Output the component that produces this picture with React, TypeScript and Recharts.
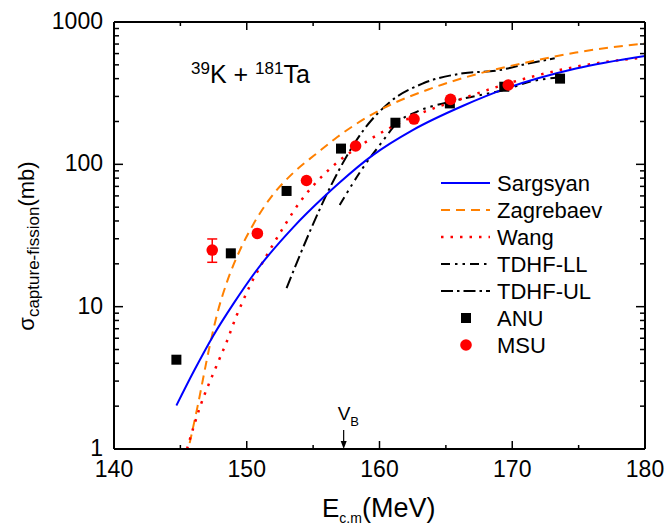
import {
  ComposedChart,
  Line,
  Scatter,
  XAxis,
  YAxis,
  ErrorBar,
  ReferenceDot,
  Legend,
} from 'recharts';

// theory curves (E c.m. in MeV, sigma in mb)
const sargsyanE = [144.7, 146.0, 147.5, 149.0, 150.7, 153.5, 155.8, 157.0, 159.5, 162.5, 166.3, 169.6, 174.8, 180];
const sargsyanSigma = [2.02, 3.5, 6.3, 10.5, 17.8, 36.1, 58.9, 74.5, 116, 174, 258, 343, 471, 577];

const zagrebaevE = [145.7, 146.3, 147.2, 147.8, 148.5, 149.5, 150.5, 151.75, 153.5, 155.3, 156.8, 160.0, 163.8, 167.6, 171.3, 174.8, 180];
const zagrebaevSigma = [1.1, 2.0, 5.25, 9.1, 14.8, 25.1, 38.0, 57.5, 87.1, 120, 155, 240, 339, 437, 525, 610, 708];

const wangE = [145.5, 146.5, 147.7, 148.5, 149.2, 149.7, 150.2, 151.5, 152.75, 154.0, 155.3, 156.4, 159.3, 162.5, 166.3, 170.1, 174.8, 180];
const wangSigma = [1.0, 2.0, 3.8, 5.7, 8.5, 10.9, 13.8, 22.9, 35.9, 54.3, 75.9, 95.5, 150, 216, 291, 380, 485, 565];

const tdhfLLE = [157.0, 158.8, 160.3, 161.3, 162.8, 165.3, 167.6, 169.6, 171.3, 173.5];
const tdhfLLSigma = [51.8, 96, 148, 194, 234, 275, 307, 337, 380, 408];

const tdhfULE = [153.0, 154.8, 156.3, 158.8, 160.8, 163.3, 166.3, 168.8, 171.3, 173.2];
const tdhfULSigma = [13.5, 34.5, 69.6, 174, 275, 371, 436, 455, 513, 556];

// experiment
const anuE = [144.7, 148.8, 153.0, 157.1, 161.2, 165.3, 169.4, 173.6];
const anuSigma = [4.24, 23.7, 65, 129, 196, 268, 351, 400];

const msuE = [147.4, 150.8, 154.5, 158.2, 162.6, 165.35, 169.7];
const msuSigma = [25, 32.7, 77, 134.5, 208, 286, 361];
const msuErrLow = [4.5, 0, 0, 0, 0, 0, 0];
const msuErrHigh = [4.9, 0, 0, 0, 0, 0, 0];

const xTicks = [140, 145, 150, 155, 160, 165, 170, 175, 180];
const xLabels = [140, 150, 160, 170, 180];
const yTicks = [
  1, 2, 3, 4, 5, 6, 7, 8, 9,
  10, 20, 30, 40, 50, 60, 70, 80, 90,
  100, 200, 300, 400, 500, 600, 700, 800, 900,
  1000,
];
const yLabels = [1, 10, 100, 1000];

const VB = 157.3;

const FONT = '"Liberation Sans", Arial, Helvetica, sans-serif';

const pts = (e: number[], s: number[]) => e.map((x, i) => ({ x, y: s[i] }));
const msuData = msuE.map((x, i) => ({ x, y: msuSigma[i], err: [msuErrLow[i], msuErrHigh[i]] }));

const legendItems = [
  { name: 'Sargsyan', kind: 'line', color: '#0000FF', dash: undefined, width: 2 },
  { name: 'Zagrebaev', kind: 'line', color: '#FF8000', dash: '9 6', width: 2 },
  { name: 'Wang', kind: 'line', color: '#FF0000', dash: '2.5 7', width: 2.5 },
  { name: 'TDHF-LL', kind: 'line', color: '#000', dash: '9 5 2.5 5 2.5 5', width: 2 },
  { name: 'TDHF-UL', kind: 'line', color: '#000', dash: '12 4 2.5 4', width: 2 },
  { name: 'ANU', kind: 'square', color: '#000' },
  { name: 'MSU', kind: 'circle', color: '#FF0000' },
];

const tickX = (side: 'bottom' | 'top') => (props: any) => {
  const { x, y, payload } = props;
  const v = payload.value;
  const major = xLabels.includes(v);
  const len = major ? 8 : 4;
  const dir = side === 'bottom' ? -1 : 1;
  return (
    <g>
      <line x1={x} x2={x} y1={y} y2={y + dir * len} stroke="#000" strokeWidth={1.5} />
      {side === 'bottom' && major && (
        <text x={x} y={y + 28} textAnchor="middle" fontSize={23} fontFamily={FONT} fill="#000">
          {v}
        </text>
      )}
    </g>
  );
};

const tickY = (side: 'left' | 'right') => (props: any) => {
  const { x, y, payload } = props;
  const v = payload.value;
  const major = yLabels.includes(v);
  const len = major ? 9 : 5;
  const dir = side === 'left' ? 1 : -1;
  return (
    <g>
      <line x1={x} x2={x + dir * len} y1={y} y2={y} stroke="#000" strokeWidth={1.5} />
      {side === 'left' && major && (
        <text x={x - 11} y={y + 7} textAnchor="end" fontSize={23} fontFamily={FONT} fill="#000">
          {v}
        </text>
      )}
    </g>
  );
};

const Square = (props: any) => (
  <rect x={props.cx - 5} y={props.cy - 5} width={10} height={10} fill="#000" />
);
const Dot = (props: any) => <circle cx={props.cx} cy={props.cy} r={5.8} fill="#FF0000" />;

const BarrierArrow = (props: any) => {
  const { cx, cy } = props;
  return (
    <g>
      <line x1={cx} x2={cx} y1={cy - 19} y2={cy - 6} stroke="#000" strokeWidth={1.2} />
      <polygon points={`${cx - 3},${cy - 8} ${cx + 3},${cy - 8} ${cx},${cy}`} fill="#000" />
      <text x={cx - 6} y={cy - 29} fontFamily={FONT} fill="#000">
        <tspan fontSize={19}>V</tspan>
        <tspan fontSize={13} dy={6}>B</tspan>
      </text>
    </g>
  );
};

const renderLegend = () => (
  <svg width={220} height={200} style={{ display: 'block' }}>
    {legendItems.map((it, i) => {
      const cy = 15 + 27 * i;
      return (
        <g key={it.name}>
          {it.kind === 'line' && (
            <line x1={5} x2={54} y1={cy} y2={cy} stroke={it.color} strokeWidth={it.width} strokeDasharray={it.dash} />
          )}
          {it.kind === 'square' && <rect x={25} y={cy - 5} width={10} height={10} fill={it.color} />}
          {it.kind === 'circle' && <circle cx={30} cy={cy} r={5.8} fill={it.color} />}
          <text x={61} y={cy + 8} fontSize={22} fontFamily={FONT} fill="#000">
            {it.name}
          </text>
        </g>
      );
    })}
  </svg>
);

export default function App() {
  return (
    <div style={{ position: 'absolute', left: 0, top: 0, width: 667, height: 527, background: '#fff' }}>
      <ComposedChart width={667} height={527} margin={{ top: 0, right: 0, bottom: 0, left: 0 }}>
        <XAxis
          xAxisId="b"
          dataKey="x"
          type="number"
          domain={[140, 180]}
          ticks={xTicks}
          interval={0}
          allowDataOverflow
          height={78}
          tickSize={0}
          tickMargin={0}
          tick={tickX('bottom')}
          axisLine={{ stroke: '#000', strokeWidth: 2 }}
          tickLine={false}
        />
        <XAxis
          xAxisId="t"
          orientation="top"
          dataKey="x"
          type="number"
          domain={[140, 180]}
          ticks={xTicks}
          interval={0}
          allowDataOverflow
          height={22}
          tickSize={0}
          tickMargin={0}
          tick={tickX('top')}
          axisLine={{ stroke: '#000', strokeWidth: 2 }}
          tickLine={false}
        />
        <YAxis
          yAxisId="l"
          dataKey="y"
          type="number"
          scale="log"
          domain={[1, 1000]}
          ticks={yTicks}
          interval={0}
          allowDataOverflow
          width={114}
          tickSize={0}
          tickMargin={0}
          tick={tickY('left')}
          axisLine={{ stroke: '#000', strokeWidth: 2 }}
          tickLine={false}
        />
        <YAxis
          yAxisId="r"
          orientation="right"
          dataKey="y"
          type="number"
          scale="log"
          domain={[1, 1000]}
          ticks={yTicks}
          interval={0}
          allowDataOverflow
          width={22}
          tickSize={0}
          tickMargin={0}
          tick={tickY('right')}
          axisLine={{ stroke: '#000', strokeWidth: 2 }}
          tickLine={false}
        />

        <Line xAxisId="b" yAxisId="l" data={pts(tdhfLLE, tdhfLLSigma)} dataKey="y" type="monotone"
          stroke="#000" strokeWidth={2} strokeDasharray="9 5 2.5 5 2.5 5" dot={false} isAnimationActive={false} />
        <Line xAxisId="b" yAxisId="l" data={pts(tdhfULE, tdhfULSigma)} dataKey="y" type="monotone"
          stroke="#000" strokeWidth={2} strokeDasharray="12 4 2.5 4" dot={false} isAnimationActive={false} />
        <Line xAxisId="b" yAxisId="l" data={pts(zagrebaevE, zagrebaevSigma)} dataKey="y" type="monotone"
          stroke="#FF8000" strokeWidth={2} strokeDasharray="9 6" dot={false} isAnimationActive={false} />
        <Line xAxisId="b" yAxisId="l" data={pts(wangE, wangSigma)} dataKey="y" type="monotone"
          stroke="#FF0000" strokeWidth={2.5} strokeDasharray="2.5 7" dot={false} isAnimationActive={false} />
        <Line xAxisId="b" yAxisId="l" data={pts(sargsyanE, sargsyanSigma)} dataKey="y" type="monotone"
          stroke="#0000FF" strokeWidth={2} dot={false} isAnimationActive={false} />

        <Scatter xAxisId="b" yAxisId="l" data={pts(anuE, anuSigma)} shape={Square} isAnimationActive={false} />
        <Scatter xAxisId="b" yAxisId="l" data={msuData} shape={Dot} isAnimationActive={false}>
          <ErrorBar dataKey="err" direction="y" width={5} stroke="#FF0000" strokeWidth={1.5} />
        </Scatter>

        <ReferenceDot xAxisId="b" yAxisId="l" x={VB} y={1} r={0} shape={BarrierArrow} ifOverflow="visible" />

        <Legend
          layout="vertical"
          align="center"
          verticalAlign="middle"
          content={renderLegend}
          wrapperStyle={{ left: 436, top: 168, width: 220, height: 200 }}
        />
      </ComposedChart>

      <svg
        width={667}
        height={527}
        style={{ position: 'absolute', left: 0, top: 0, pointerEvents: 'none' }}
      >
        <text x={191} y={83} fontFamily={FONT} fill="#000">
          <tspan fontSize={17} dy={-9}>39</tspan>
          <tspan fontSize={25} dy={9}>K + </tspan>
          <tspan fontSize={17} dy={-9}>181</tspan>
          <tspan fontSize={25} dy={9}>Ta</tspan>
        </text>
        <text x={322} y={517} fontFamily={FONT} fill="#000">
          <tspan fontSize={26}>E</tspan>
          <tspan fontSize={14} dy={6}>c.m</tspan>
          <tspan fontSize={27} dy={-6}>(MeV)</tspan>
        </text>
        <text transform="translate(34,246) rotate(-90)" textAnchor="middle" fontFamily={FONT} fill="#000">
          <tspan fontSize={22}>σ</tspan>
          <tspan fontSize={17} dy={5}>capture-fission</tspan>
          <tspan fontSize={22} dy={-5}>(mb)</tspan>
        </text>
      </svg>
    </div>
  );
}
